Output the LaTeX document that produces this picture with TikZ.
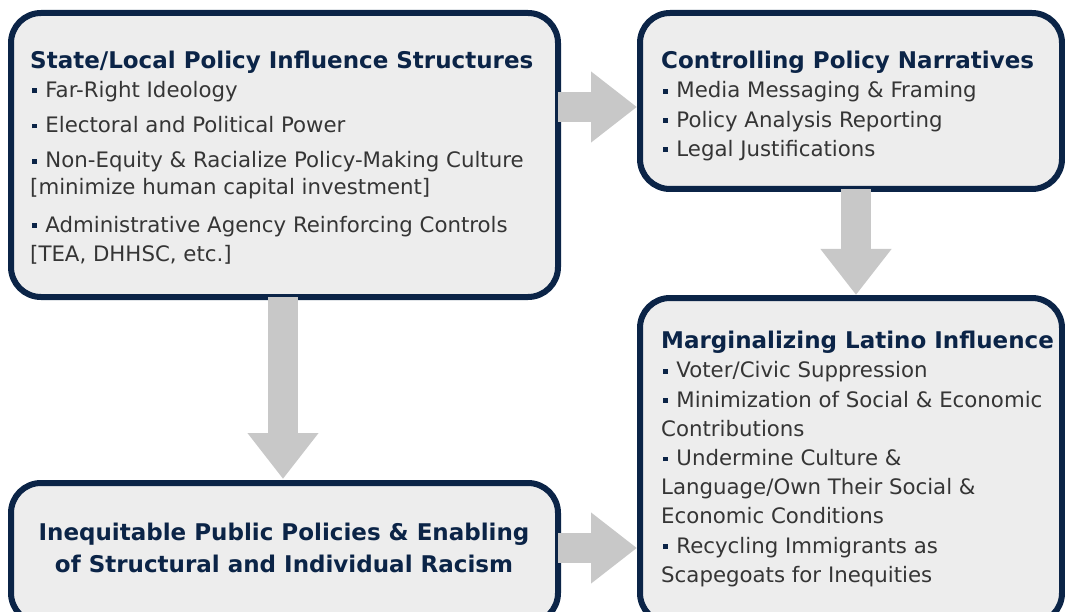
\documentclass[tikz,border=0pt]{standalone}
\usepackage{fontspec}
\setmainfont{DejaVu Sans}
\usetikzlibrary{arrows.meta}

\definecolor{navy}{HTML}{0B2447}
\definecolor{boxfill}{HTML}{EDEDED}
\definecolor{bodytext}{HTML}{353535}
\definecolor{arrowgray}{HTML}{C8C8C8}

\newcommand{\bul}{\hspace{2pt}{\color{navy}\rule[0.2em]{0.22em}{0.22em}}\hspace{0.4em}}

\tikzset{
  box/.style={draw=navy, fill=boxfill, line width=6pt, rounded corners=30pt, inner sep=0pt},
  head/.style={font=\fontsize{23}{29}\selectfont\bfseries, text=navy},
  body/.style={anchor=north west, inner sep=0pt, align=left, text=bodytext, font=\fontsize{21.3}{29.2}\selectfont},
  bigarrow/.style={line width=30pt, arrowgray, -{Triangle[length=46pt,width=68pt]}}
}

\begin{document}
\begin{tikzpicture}[x=1pt,y=-1pt]
\useasboundingbox (0,0) rectangle (1065,612);

\node[box, minimum width=547pt, minimum height=284pt] (struct) at (284.5,155) {};
\node[box, minimum width=422pt, minimum height=176pt] (narr) at (851,101) {};
\node[box, minimum width=547pt, minimum height=140pt] (policy) at (284.5,553) {};
\node[box, minimum width=422pt, minimum height=325pt] (margin) at (851,460.5) {};

\coordinate (s1) at (558,107);
\coordinate (n1) at (637,107);
\coordinate (s2) at (283,297);
\coordinate (p2) at (283,479);
\coordinate (n3) at (856,189);
\coordinate (m3) at (856,295);
\coordinate (p4) at (558,548);
\coordinate (m4) at (637,548);

\draw[bigarrow] (s1) -- (n1);
\draw[bigarrow] (s2) -- (p2);
\draw[bigarrow] (n3) -- (m3);
\draw[bigarrow] (p4) -- (m4);

\node[body] (structtxt) at (30,50.5) {{\fontsize{23}{29}\selectfont\bfseries\color{navy}State/Local Policy Influence Structures}\\
\bul Far-Right Ideology\\[6pt]
\bul Electoral and Political Power\\[6pt]
\bul Non-Equity \& Racialize Policy-Making Culture\\[-2pt]
{[}minimize human capital investment]\\[8pt]
\bul Administrative Agency Reinforcing Controls\\
{[}TEA, DHHSC, etc.]};

\node[body] (narrtxt) at (661,51) {{\fontsize{23}{29}\selectfont\bfseries\color{navy}Controlling Policy Narratives}\\
\bul Media Messaging \& Framing\\
\bul Policy Analysis Reporting\\
\bul Legal Justifications};

\node[body] (margintxt) at (661,331) {{\fontsize{23}{29}\selectfont\bfseries\color{navy}Marginalizing Latino Influence}\\
\bul Voter/Civic Suppression\\
\bul Minimization of Social \& Economic\\
Contributions\\
\bul Undermine Culture \&\\
Language/Own Their Social \&\\
Economic Conditions\\
\bul Recycling Immigrants as\\
Scapegoats for Inequities};

\node[head, align=center, font=\fontsize{23}{32}\selectfont\bfseries] (policytxt) at (284,548) {Inequitable Public Policies \& Enabling\\of Structural and Individual Racism};

\end{tikzpicture}
\end{document}
